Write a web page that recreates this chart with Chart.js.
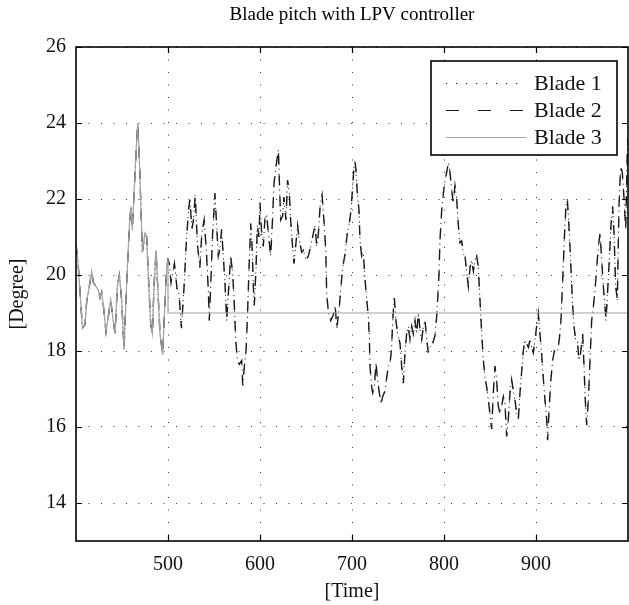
<!DOCTYPE html>
<html>
<head>
<meta charset="utf-8">
<script src="https://cdn.jsdelivr.net/npm/chart.js@4.4.1/dist/chart.umd.min.js"></script>
<style>
  html, body { margin: 0; padding: 0; background: #fff; }
</style>
</head>
<body>
<canvas id="pitchChart" width="629" height="605"></canvas>
<script>
// Blade pitch samples (blades 1 and 2 share the same trace)
const pitchTime = [
  400, 402, 404, 407, 409.8, 411.6, 414.5, 417, 418.8, 421.7, 424.3, 426,
  427.9, 429.7, 432.6, 435.1, 437.7, 439.9, 442.4, 444.9, 447.1, 449.6, 452.2, 455.1,
  458, 459.8, 461.2, 463.4, 465.2, 467, 468.5, 470.3, 472.1, 475, 476.8, 478.6,
  481.2, 483, 484.8, 487, 488.8, 491.3, 494.2, 496, 498.6, 500, 501.5, 503.3,
  507, 510, 512, 514.6, 517.5, 520, 522.3, 523.8, 526, 527.7, 529.6, 532,
  534.6, 536.8, 539.3, 541.8, 543.8, 544.9, 546.7, 548.5, 550, 551, 552.9, 554.7,
  556.5, 558.3, 560.1, 561.9, 563.8, 565.6, 568.1, 570.3, 572.1, 573.6, 575.4, 577.5,
  580.1, 581.2, 583, 584.8, 586.2, 588.1, 589.9, 591.3, 592.8, 593.8, 595.7, 597.1,
  598.9, 600, 601.8, 603.6, 605.4, 607.2, 609.1, 611.6, 613.8, 615.2, 617.4, 620,
  621, 622.5, 624.6, 626, 628.2, 630, 631.9, 633.3, 635.1, 636.9, 639.1, 640.9,
  642.8, 645.3, 647.1, 650, 652.6, 655.1, 658, 659.9, 661.7, 663.5, 665.3, 667.5,
  669.6, 671.5, 672.5, 674.4, 676.9, 679.8, 681.7, 683.5, 686.2, 688, 689.9, 692.4,
  694.9, 697.1, 698.9, 700.7, 702.2, 703.3, 704.3, 705.8, 707.6, 708.7, 710.5, 712.3,
  714.1, 716, 717.8, 718.9, 719.6, 721.4, 722.5, 724.3, 726.1, 727.5, 729.7, 731.5,
  733.3, 735.9, 737.7, 739.5, 741.3, 743.1, 744.2, 746, 747.8, 749.6, 752.2, 754,
  755.8, 757.6, 759.4, 761.2, 763, 764.9, 766.7, 768.5, 770.3, 772.1, 774, 775.8,
  777.6, 779.4, 781.2, 783, 784.8, 787.7, 790.2, 792, 793.1, 794.6, 795.6, 797.5,
  799.3, 801.1, 802.9, 804.7, 806.5, 808.3, 810.1, 811.9, 813.8, 815.6, 817.4, 819.2,
  821, 822.9, 824.7, 826.5, 828.3, 830.1, 831.9, 833.7, 835.5, 837.3, 839.1, 841,
  842.8, 844.6, 846.4, 848.2, 850, 851.8, 853.6, 855.4, 857.2, 859, 860.9, 862.7,
  864.5, 866.3, 868.1, 869.9, 871.7, 873.5, 875.4, 877.2, 879, 880.8, 882.6, 884.4,
  886.2, 888, 889.8, 891.7, 893.5, 895.3, 897.1, 898.9, 900.7, 902.5, 904.3, 906.1,
  907.9, 909.8, 911.6, 912.6, 914.4, 916.2, 918.1, 919.9, 921.7, 923.5, 925.3, 927.1,
  928.9, 930.7, 932.5, 934, 935.8, 937.6, 939.5, 941.3, 943.1, 944.9, 946.7, 948.5,
  950.7, 952.2, 953.6, 955.1, 956.9, 958.7, 960.5, 962.3, 964.1, 966, 967.8, 969.6,
  971.4, 973.2, 975, 976.1, 977.9, 979.7, 981.5, 983.3, 984.8, 986.6, 988.4, 990.2,
  992, 993.8, 995.7, 997.5, 999.3, 1000
];
const pitchDeg = [
  20.8, 20.4, 19.7, 18.6, 18.7, 19.3, 19.7, 20.1, 19.8, 19.7, 19.6, 19.4,
  19.55, 19.2, 18.5, 18.9, 19.35, 18.9, 18.45, 19.7, 20.0, 19.35, 18.05, 19.8,
  21.3, 21.8, 21.2, 22.3, 23.2, 24.0, 23.3, 22.0, 20.6, 21.1, 21.0, 20.0,
  18.7, 18.45, 19.7, 20.65, 19.7, 18.45, 17.9, 18.9, 20.2, 20.4, 20.3, 19.8,
  20.3, 19.6, 19.5, 18.6, 19.7, 20.9, 21.7, 22.0, 21.2, 21.45, 22.1, 20.8,
  20.2, 21.1, 21.45, 20.6, 19.6, 18.8, 19.9, 21.1, 21.7, 22.15, 21.3, 20.5,
  20.7, 21.2, 20.5, 19.8, 18.8, 19.5, 20.5, 20.05, 19.2, 18.3, 17.75, 17.65,
  17.75, 17.1, 17.6, 18.0, 18.8, 20.2, 21.35, 20.8, 19.7, 19.2, 20.2, 21.3,
  21.0, 21.9, 21.1, 20.75, 21.5, 21.6, 21.1, 20.5, 21.55, 22.4, 22.85, 23.3,
  22.5, 21.45, 21.55, 22.05, 21.45, 22.5, 22.15, 21.45, 20.85, 20.3, 20.85, 21.3,
  20.9, 20.6, 20.65, 20.4, 20.5, 20.75, 21.1, 21.3, 20.75, 21.1, 21.8, 22.1,
  21.4, 20.65, 19.5, 19.0, 18.8, 18.95, 19.2, 18.6, 19.15, 19.7, 20.2, 20.55,
  21.1, 21.35, 21.7, 22.3, 22.9, 23.0, 22.75, 22.15, 21.7, 20.9, 20.5, 20.6,
  19.9, 19.35, 18.9, 18.3, 17.6, 17.05, 16.9, 17.05, 17.7, 17.3, 16.9, 16.6,
  16.8, 16.95, 17.3, 17.6, 17.65, 18.1, 18.8, 19.4, 18.8, 18.45, 18.2, 17.6,
  17.15, 17.95, 18.45, 18.65, 18.3, 18.65, 18.45, 18.8, 18.45, 19.0, 18.55, 18.3,
  18.65, 18.8, 18.3, 17.95, 18.1, 18.2, 18.4, 18.9, 19.35, 20.05, 20.9, 21.7,
  22.15, 22.5, 22.7, 22.95, 22.7, 22.25, 21.9, 22.35, 22.0, 21.3, 20.85, 20.9,
  20.55, 20.5, 20.05, 19.7, 20.2, 20.4, 20.1, 20.4, 20.5, 20.2, 19.35, 18.45,
  17.75, 17.3, 17.05, 16.7, 16.35, 15.95, 16.9, 17.6, 17.25, 16.55, 16.35, 16.55,
  16.8, 16.6, 15.75, 16.2, 16.9, 17.25, 16.95, 16.7, 16.35, 16.2, 16.9, 17.45,
  18.0, 18.3, 18.2, 18.1, 18.3, 18.1, 17.95, 18.3, 18.65, 19.0, 18.45, 17.95,
  17.3, 16.7, 16.2, 15.65, 16.55, 17.25, 17.75, 18.0, 17.95, 18.0, 18.3, 18.8,
  19.8, 20.9, 21.8, 22.0, 21.3, 20.4, 19.35, 18.65, 18.3, 18.3, 17.75, 17.95,
  18.45, 17.6, 16.7, 16.05, 16.7, 17.75, 18.8, 19.15, 19.6, 20.2, 20.75, 21.1,
  20.4, 19.7, 19.15, 18.8, 19.6, 20.4, 21.3, 21.8, 21.1, 19.7, 19.35, 21.8,
  22.85, 22.7, 22.0, 21.2, 23.3, 23.6
];
// Blade 3 follows the others until the switch, then holds a constant pitch
const blade3SwitchTime = 500;
const blade3HoldDeg = 19;
const blade3EndTime = 1000;

const xTicks = [500, 600, 700, 800, 900];
const yTicks = [14, 16, 18, 20, 22, 24, 26];
const bladeLabels = ['Blade 1', 'Blade 2', 'Blade 3'];
const chartTitle = 'Blade pitch with LPV controller';

const SERIF = '"Liberation Serif", "Times New Roman", serif';

const pitchPoints = pitchTime.map((t, i) => ({ x: t, y: pitchDeg[i] }));
const blade3Points = pitchPoints.filter(p => p.x <= blade3SwitchTime)
  .concat([{ x: blade3SwitchTime, y: blade3HoldDeg }, { x: blade3EndTime, y: blade3HoldDeg }]);

// frame, inward ticks, title and the boxed legend (MATLAB look)
const matlabFrame = {
  id: 'matlabFrame',
  afterDraw(chart) {
    const { ctx, chartArea: a, scales: { x, y } } = chart;
    ctx.save();
    ctx.strokeStyle = '#000';
    ctx.lineWidth = 1.2;
    ctx.beginPath();
    xTicks.forEach(v => {
      const px = Math.round(x.getPixelForValue(v)) + 0.5;
      ctx.moveTo(px, a.bottom); ctx.lineTo(px, a.bottom - 6);
      ctx.moveTo(px, a.top); ctx.lineTo(px, a.top + 6);
    });
    yTicks.forEach(v => {
      const py = Math.round(y.getPixelForValue(v)) + 0.5;
      ctx.moveTo(a.left, py); ctx.lineTo(a.left + 6, py);
      ctx.moveTo(a.right, py); ctx.lineTo(a.right - 6, py);
    });
    ctx.stroke();
    ctx.lineWidth = 1.6;
    ctx.strokeRect(a.left, a.top, a.right - a.left, a.bottom - a.top);

    // title
    ctx.fillStyle = '#000';
    ctx.font = '19px ' + SERIF;
    ctx.textAlign = 'center';
    ctx.textBaseline = 'middle';
    ctx.fillText(chartTitle, (a.left + a.right) / 2, 15);

    // legend
    const box = { left: 431, top: 61, right: 617, bottom: 155 };
    ctx.fillStyle = '#fff';
    ctx.fillRect(box.left, box.top, box.right - box.left, box.bottom - box.top);
    ctx.lineWidth = 1.6;
    ctx.strokeStyle = '#000';
    ctx.strokeRect(box.left, box.top, box.right - box.left, box.bottom - box.top);
    ctx.font = '22px ' + SERIF;
    ctx.textAlign = 'left';
    chart.data.datasets.forEach((ds, i) => {
      const ly = box.top + 22 + i * 27;
      ctx.save();
      ctx.strokeStyle = ds.borderColor;
      ctx.lineWidth = ds.legendWidth || ds.borderWidth;
      ctx.setLineDash(ds.legendDash || []);
      ctx.beginPath();
      ctx.moveTo(446, ly + 0.5);
      ctx.lineTo(526, ly + 0.5);
      ctx.stroke();
      ctx.restore();
      ctx.fillStyle = '#111';
      ctx.fillText(ds.label, 534, ly + 1);
    });
    ctx.restore();
  }
};

new Chart(document.getElementById('pitchChart'), {
  type: 'line',
  data: {
    datasets: [
      {
        label: bladeLabels[0],
        data: pitchPoints,
        borderColor: '#222',
        borderWidth: 1,
        borderDash: [1.2, 4],
        legendDash: [1.2, 8.8],
        legendWidth: 1.2,
        pointRadius: 0,
        tension: 0,
        order: 2,
      },
      {
        label: bladeLabels[1],
        data: pitchPoints,
        borderColor: '#1a1a1a',
        borderWidth: 1.4,
        borderDash: [10, 11],
        legendDash: [13, 19],
        legendWidth: 1.1,
        pointRadius: 0,
        tension: 0,
        order: 1,
      },
      {
        label: bladeLabels[2],
        data: blade3Points,
        borderColor: '#a3a3a3',
        borderWidth: 1.2,
        pointRadius: 0,
        tension: 0,
        order: 0,
      },
    ],
  },
  options: {
    responsive: false,
    animation: false,
    events: [],
    layout: { padding: { top: 47, right: 1, left: 0, bottom: 0 } },
    plugins: {
      legend: { display: false },
      title: { display: false },
      tooltip: { enabled: false },
    },
    scales: {
      x: {
        type: 'linear',
        min: 400,
        max: 1000,
        afterBuildTicks: s => { s.ticks = xTicks.map(v => ({ value: v })); },
        afterFit: s => { s.height = 64; },
        ticks: { color: '#111', font: { family: SERIF, size: 20 }, padding: 12, maxRotation: 0, autoSkip: false },
        grid: { color: '#333', lineWidth: 1, drawTicks: false },
        border: { display: false, dash: [1, 11.5] },
        title: { display: true, text: '[Time]', color: '#111', font: { family: SERIF, size: 20 }, padding: { top: 0, bottom: 1 } },
      },
      y: {
        min: 13,
        max: 26,
        afterBuildTicks: s => { s.ticks = yTicks.map(v => ({ value: v })); },
        afterFit: s => { s.width = 76; },
        ticks: { color: '#111', font: { family: SERIF, size: 20 }, padding: 10 },
        grid: { color: '#333', lineWidth: 1, drawTicks: false },
        border: { display: false, dash: [1, 11.5] },
        title: { display: true, text: '[Degree]', color: '#111', font: { family: SERIF, size: 20 }, padding: { top: 6, bottom: 0 } },
      },
    },
  },
  plugins: [matlabFrame],
});
</script>
</body>
</html>
